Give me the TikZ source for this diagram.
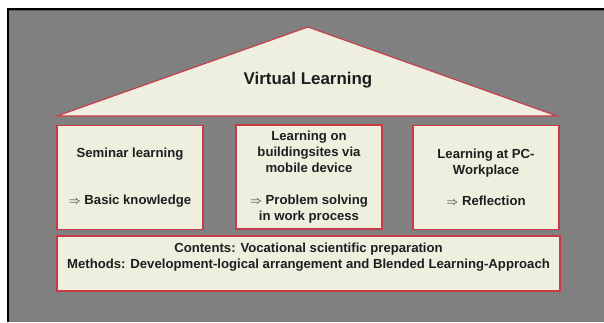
\documentclass[tikz,border=0pt]{standalone}
\usepackage{fontspec}
\setmainfont{Liberation Sans}
\definecolor{slate}{RGB}{128,128,128}
\definecolor{cream}{RGB}{239,239,224}
\definecolor{rim}{RGB}{200,58,72}
\definecolor{ink}{RGB}{30,30,30}
\begin{document}
\begin{tikzpicture}[x=1bp,y=-1bp,
  pane/.style={draw=rim, line width=1.1bp, fill=cream, inner sep=0pt, text=ink,
    align=center, font=\bfseries\fontsize{13.2pt}{15.9pt}\selectfont},
  label/.style={text=ink, inner sep=0pt, align=center,
    font=\bfseries\fontsize{13.2pt}{15.9pt}\selectfont}]
  % page and grey slide area with its dark frame
  \useasboundingbox (0,0) rectangle (604,322);
  \fill[white] (0,0) rectangle (604,322);
  \fill[slate] (8,9) rectangle (604,322);
  \draw[black, line width=2bp] (8,322) -- (8,9) -- (604,9);
  \draw[black!65, line width=1bp] (9,10.8) -- (604,10.8);

  % roof
  \draw[draw=rim, line width=1.1bp, fill=cream, line join=miter]
    (57,116) -- (308,27) -- (557,116) -- cycle;
  \node[label, font=\bfseries\fontsize{17pt}{20pt}\selectfont] (roof) at (308,80) {Virtual Learning};

  % three pillars
  \node[pane, minimum width=146bp, minimum height=104bp] (seminar) at (130,177.5)
    {Seminar learning\\\strut\\\strut\\{\large$\Rightarrow$} Basic knowledge};
  \node[pane, minimum width=146bp, minimum height=104bp] (site) at (309,177)
    {Learning on\\buildingsites via\\mobile device\\\strut\\{\large$\Rightarrow$} Problem solving\\in work process};
  \node[pane, minimum width=146bp, minimum height=104bp] (pc) at (486,177.5)
    {Learning at PC-\\Workplace\\\strut\\{\large$\Rightarrow$} Reflection};

  % foundation
  \node[pane, minimum width=503bp, minimum height=55bp] (base) at (308.5,263.5)
    {Contents: Vocational scientific preparation\\Methods: Development-logical arrangement and Blended Learning-Approach\\[-5pt]\strut};
\end{tikzpicture}
\end{document}
